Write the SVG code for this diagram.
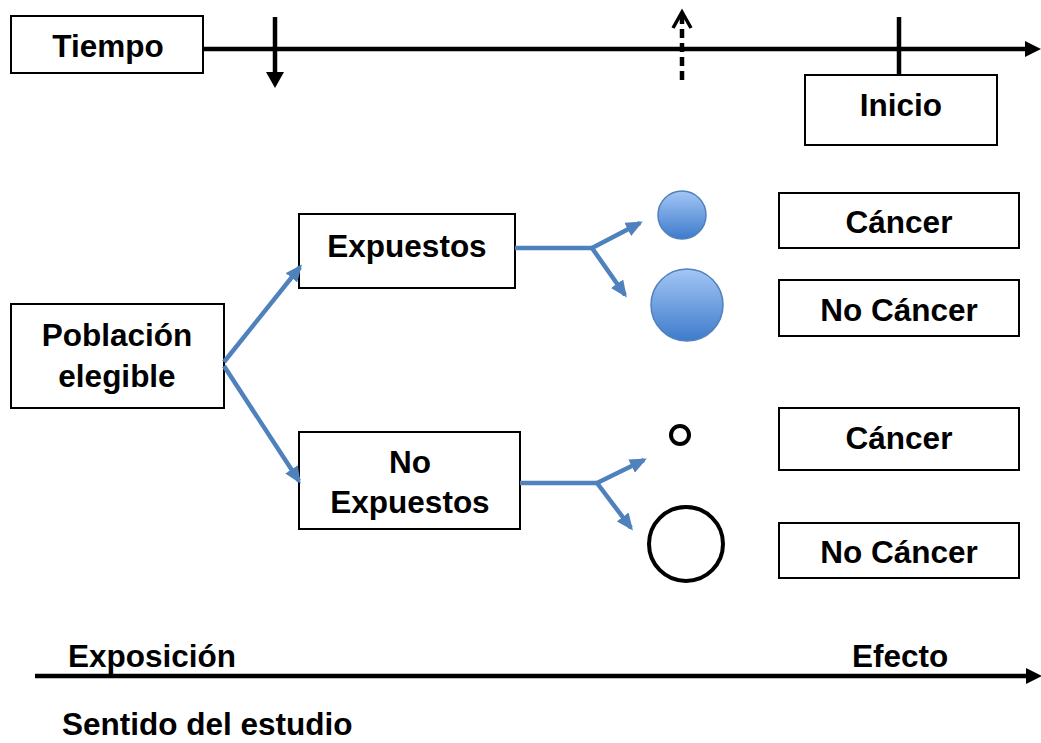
<svg xmlns="http://www.w3.org/2000/svg" width="1041" height="743" viewBox="0 0 1041 743">
<style>
.box{fill:#fff;stroke:#000;stroke-width:2}
.t{font-family:"Liberation Sans",Arial,sans-serif;font-weight:bold;font-size:31.5px;fill:#000}
.c{text-anchor:middle}
.blue{fill:none;stroke:#4F81BD;stroke-width:4.5;stroke-linejoin:round}
.blk{fill:none;stroke:#000;stroke-width:4.5}
</style>
<defs>
<marker id="ba" viewBox="0 0 16 14" refX="13" refY="7" markerWidth="17" markerHeight="15" markerUnits="userSpaceOnUse" orient="auto">
<path d="M0,0 L16,7 L0,14 Z" fill="#4F81BD"/>
</marker>
<linearGradient id="g" x1="0" y1="0" x2="0" y2="1">
<stop offset="0" stop-color="#A3C6F5"/>
<stop offset="1" stop-color="#3E7BCB"/>
</linearGradient>
</defs>
<g id="timeline">
<line class="blk" x1="203" y1="49" x2="1027" y2="49"/>
<path d="M1025,41 L1041,49 L1025,57 Z" fill="#000"/>
<line class="blk" x1="275" y1="17" x2="275" y2="74"/>
<path d="M266,72 L284,72 L275,88 Z" fill="#000"/>
<line class="blk" x1="682" y1="80" x2="682" y2="14" stroke-dasharray="9,5"/>
<path d="M673,28 L682,12 L691,28" fill="none" stroke="#000" stroke-width="3.5"/>
<line class="blk" x1="899" y1="17" x2="899" y2="75"/>
</g>
<g id="tiempo"><rect class="box" x="11" y="16" width="192" height="57"/><text class="t c" x="108" y="57">Tiempo</text></g>
<g id="inicio"><rect class="box" x="805" y="75" width="192" height="70"/><text class="t c" x="901" y="116">Inicio</text></g>
<g id="poblacion"><rect class="box" x="11" y="304" width="213" height="104"/><text class="t c" x="117" y="346">Población</text><text class="t c" x="117" y="387">elegible</text></g>
<g id="expuestos"><rect class="box" x="299" y="214" width="216" height="74"/><text class="t c" x="407" y="257">Expuestos</text></g>
<g id="noexpuestos"><rect class="box" x="299" y="432" width="221" height="97"/><text class="t c" x="410" y="473">No</text><text class="t c" x="410" y="513">Expuestos</text></g>
<g id="cancer1"><rect class="box" x="779" y="193" width="240" height="55"/><text class="t c" x="899" y="233">Cáncer</text></g>
<g id="nocancer1"><rect class="box" x="779" y="280" width="240" height="56"/><text class="t c" x="899" y="321">No Cáncer</text></g>
<g id="cancer2"><rect class="box" x="779" y="408" width="240" height="62"/><text class="t c" x="899" y="449">Cáncer</text></g>
<g id="nocancer2"><rect class="box" x="779" y="523" width="240" height="55"/><text class="t c" x="899" y="563">No Cáncer</text></g>
<g id="circles">
<circle cx="682" cy="215" r="24" fill="url(#g)" stroke="#4F81BD" stroke-width="1.5"/>
<circle cx="687" cy="305" r="36" fill="url(#g)" stroke="#4F81BD" stroke-width="1.5"/>
<circle cx="680" cy="435" r="9" fill="none" stroke="#000" stroke-width="4"/>
<circle cx="686" cy="544" r="37" fill="none" stroke="#000" stroke-width="4"/>
</g>
<g id="connectors">
<line class="blue" x1="224" y1="362" x2="300" y2="267" marker-end="url(#ba)"/>
<line class="blue" x1="224" y1="366" x2="299" y2="481" marker-end="url(#ba)"/>
<polyline class="blue" points="515,248 592,248"/>
<line class="blue" x1="592" y1="248" x2="640" y2="223" marker-end="url(#ba)"/>
<line class="blue" x1="592" y1="248" x2="625" y2="295" marker-end="url(#ba)"/>
<polyline class="blue" points="520,483 597,483"/>
<line class="blue" x1="597" y1="483" x2="644" y2="460" marker-end="url(#ba)"/>
<line class="blue" x1="597" y1="483" x2="631" y2="528" marker-end="url(#ba)"/>
</g>
<g id="direction">
<line class="blk" x1="35" y1="676" x2="1028" y2="676"/>
<path d="M1026,668 L1042,676 L1026,684 Z" fill="#000"/>
<text class="t" x="68" y="667">Exposición</text>
<text class="t" x="852" y="667">Efecto</text>
<text class="t" x="62" y="735">Sentido del estudio</text>
</g>
</svg>
